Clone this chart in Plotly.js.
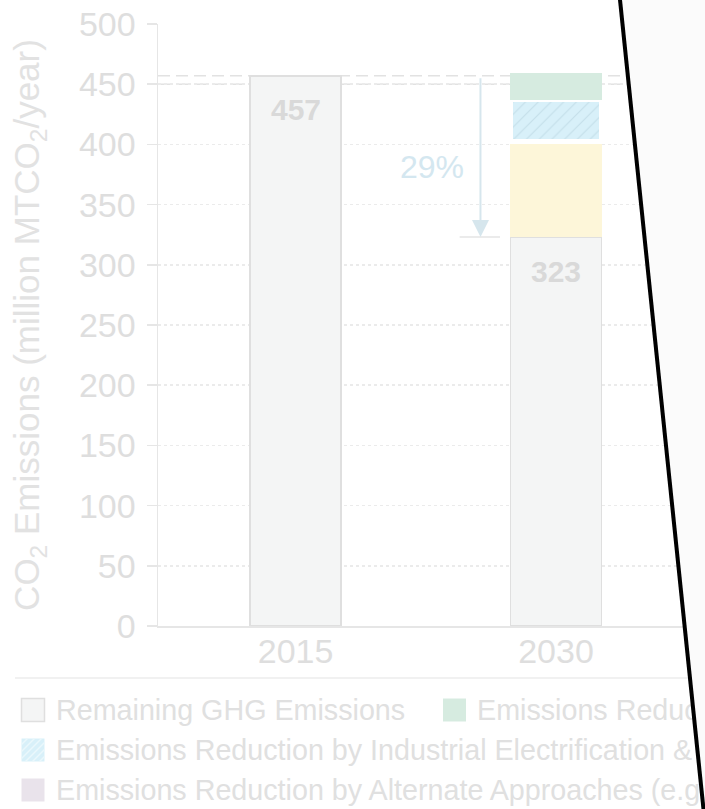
<!DOCTYPE html>
<html><head><meta charset="utf-8">
<script src="https://cdn.plot.ly/plotly-3.0.1.min.js"></script>
<style>
html,body{margin:0;padding:0;background:#fff;overflow:hidden}
#wrap{position:relative;width:705px;height:809px}
#chart{width:705px;height:809px}
#cover{position:absolute;left:0;top:0;pointer-events:none}
</style></head>
<body>
<div id="wrap"><div id="chart"></div>
<svg id="cover" width="705" height="809">
<polygon points="619.5,-5 712,-5 712,814 704,814" fill="#fbfbfb"/>
<line x1="619.5" y1="-5" x2="704" y2="814" stroke="#000" stroke-width="4"/>
</svg></div>
<script>
// ---- data ----
const categories = ['2015', '2030'];
const remaining = [457, 323];
const renewableReduction = [null, 79];
const electrificationReduction = [null, 35];
const efficiencyReduction = [null, 22];
const alternateReduction = [null, null];
const yTicks = [0, 50, 100, 150, 200, 250, 300, 350, 400, 450, 500];
const seriesNames = {
  remaining: 'Remaining GHG Emissions',
  efficiency: 'Emissions Reduction by Energy Efficiency',
  electrification: 'Emissions Reduction by Industrial Electrification & Fuel Switching',
  renewable: 'Emissions Reduction by Renewable Energy',
  alternate: 'Emissions Reduction by Alternate Approaches (e.g., CCUS)'
};
const referenceLevels = [457, 450];

// ---- layout helpers ----
const W = 705, H = 809, ML = 158, MR = 0, MT = 24, MB = 183;
const PW = W - ML - MR, PH = H - MT - MB;
const px = v => (v - ML) / PW;
const py = v => (H - MB - v) / PH;
const FONT = '"Liberation Sans", Arial, Helvetica, sans-serif';
const TXT = '#dedede';
const barW = 0.35;

const colors = {
  remaining: '#f4f5f5', remainingLine: '#dfdfdf',
  efficiency: '#d6ebe0', electrification: '#d8f0f9', hatch: '#c4dfea',
  renewable: '#fdf6d9', alternate: '#e9e3eb'
};

const traces = [
  {type:'bar', name:seriesNames.remaining, x:categories, y:remaining, width:barW,
   marker:{color:colors.remaining, line:{color:colors.remainingLine, width:1.5}}},
  {type:'bar', name:seriesNames.renewable, x:categories, y:renewableReduction, width:barW,
   marker:{color:colors.renewable, line:{width:0}}},
  {type:'bar', name:seriesNames.electrification, x:categories, y:electrificationReduction, width:barW,
   marker:{color:colors.electrification, line:{color:'#ffffff', width:5},
   pattern:{shape:'/', fgcolor:colors.hatch, bgcolor:colors.electrification, size:9, solidity:0.12}}},
  {type:'bar', name:seriesNames.efficiency, x:categories, y:efficiencyReduction, width:barW,
   marker:{color:colors.efficiency, line:{width:0}}},
  {type:'bar', name:seriesNames.alternate, x:categories, y:alternateReduction, width:barW,
   marker:{color:colors.alternate, line:{width:0}}}
];

const shapes = [];
const annotations = [];

// reference dashed lines
referenceLevels.forEach(v => shapes.push({type:'line', xref:'paper', yref:'y', x0:0, x1:1, y0:v, y1:v,
  layer:'below', line:{color:'#e2e2e2', width:1.5, dash:'12px,6px'}}));

// arrow from 2015 level to 2030 remaining
const arrowX = 0.71;
annotations.push({x:arrowX, y:remaining[1], ax:arrowX, ay:remaining[0], xref:'x', yref:'y', axref:'x', ayref:'y',
  text:' ', showarrow:true, arrowhead:2, arrowsize:1.7, arrowwidth:2, arrowcolor:'#d6e6ed', standoff:0,
  font:{size:2}});
shapes.push({type:'line', xref:'x', yref:'y', x0:0.63, x1:0.785, y0:remaining[1], y1:remaining[1],
  line:{color:'#e4e4e4', width:1.5}});
const pct = Math.round((remaining[0] - remaining[1]) / remaining[0] * 100);
annotations.push({x:0.524, y:(remaining[0] + remaining[1]) / 2 - 9, xref:'x', yref:'y', showarrow:false,
  text: pct + '%', font:{family:FONT, size:32, color:'#d4e7f0'}});

// value labels (inside top of the remaining bars)
categories.forEach((c, i) => annotations.push({x:i, y:remaining[i], xref:'x', yref:'y', showarrow:false,
  xanchor:'center', yanchor:'middle', yshift:-34, text:'<b>' + remaining[i] + '</b>',
  font:{family:FONT, size:30, color:'#d9d9d9'}}));

// separator
shapes.push({type:'line', xref:'paper', yref:'paper', x0:px(15), x1:1.05, y0:py(678), y1:py(678),
  line:{color:'#ececec', width:1.5}});

// manual legend
const legendItems = [
  {key:'remaining', sx:21.5, tx:54, row:710, fill:colors.remaining, line:colors.remainingLine},
  {key:'efficiency', sx:443, tx:475, row:710, fill:colors.efficiency},
  {key:'electrification', sx:21.5, tx:54, row:750, fill:colors.electrification, hatch:true},
  {key:'alternate', sx:21.5, tx:54, row:790, fill:colors.alternate}
];
const S = 23;
legendItems.forEach(it => {
  const x0 = it.sx, y0 = it.row - S/2;
  shapes.push({type:'rect', xref:'paper', yref:'paper', x0:px(x0), x1:px(x0+S), y0:py(y0+S), y1:py(y0),
    fillcolor:it.fill, line:{color:it.line || it.fill, width:it.line ? 1.5 : 0}});
  if (it.hatch) {
    for (let c = 6; c < 2*S; c += 7) {
      const xa = Math.max(0, c - S), xb = Math.min(S, c);
      shapes.push({type:'line', xref:'paper', yref:'paper', x0:px(x0+xa), x1:px(x0+xb),
        y0:py(y0 + c - xa), y1:py(y0 + c - xb), line:{color:'#eaf7fc', width:1.5}});
    }
  }
  annotations.push({xref:'paper', yref:'paper', x:px(it.tx), y:py(it.row), xanchor:'left', yanchor:'middle',
    showarrow:false, text:seriesNames[it.key], font:{family:FONT, size:28.7, color:'#e0e0e0'}});
});

const layout = {
  width:W, height:H, margin:{l:ML, r:MR, t:MT, b:MB},
  paper_bgcolor:'#ffffff', plot_bgcolor:'#ffffff',
  barmode:'stack', showlegend:false,
  font:{family:FONT, color:TXT},
  xaxis:{type:'category', range:[-0.528, 1.572], showgrid:false, zeroline:false,
    showline:true, linecolor:'#e6e6e6', linewidth:1.5, ticks:'',
    tickfont:{family:FONT, size:34, color:TXT}, ticklabelstandoff:-5},
  yaxis:{range:[0, 500], tickvals:yTicks, showgrid:true, gridcolor:'#ebebeb', griddash:'dot', gridwidth:1.5,
    zeroline:false, showline:true, linecolor:'#e6e6e6', linewidth:1.5,
    ticks:'outside', ticklen:10, tickwidth:1.5, tickcolor:'#e6e6e6',
    tickfont:{family:FONT, size:34, color:TXT}, ticklabelstandoff:4,
    title:{text:'CO<sub>2</sub> Emissions (million MTCO<sub>2</sub>/year)', standoff:28,
      font:{family:FONT, size:35, color:'#e2e2e2'}}},
  shapes:shapes, annotations:annotations
};

Plotly.newPlot('chart', traces, layout, {staticPlot:true, displayModeBar:false});
</script>
</body></html>
